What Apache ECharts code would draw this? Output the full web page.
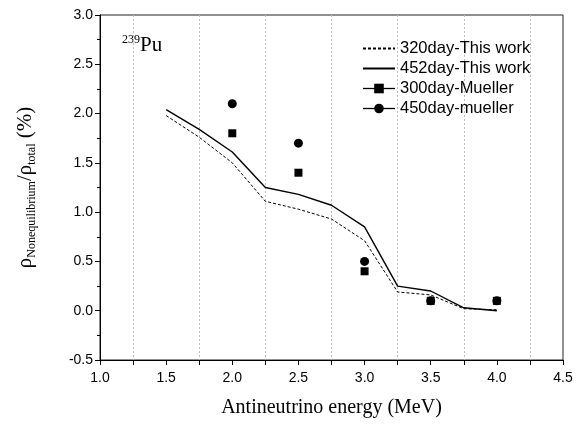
<!DOCTYPE html>
<html>
<head>
<meta charset="utf-8">
<script src="https://cdn.jsdelivr.net/npm/echarts@6/dist/echarts.min.js"></script>
<style>html,body{margin:0;padding:0;background:#fff}#c{width:577px;height:424px}</style>
</head>
<body>
<div id="c"></div>
<script>
var energies = [1.5, 1.75, 2.0, 2.25, 2.5, 2.75, 3.0, 3.25, 3.5, 3.75, 4.0];
var work320 = [1.98, 1.76, 1.50, 1.11, 1.03, 0.93, 0.71, 0.19, 0.16, 0.02, 0.01];
var work452 = [2.04, 1.84, 1.61, 1.25, 1.18, 1.07, 0.85, 0.25, 0.20, 0.03, 0.00];
var muellerE = [2.0, 2.5, 3.0, 3.5, 4.0];
var mueller300 = [1.80, 1.40, 0.40, 0.10, 0.10];
var mueller450 = [2.10, 1.70, 0.50, 0.10, 0.10];
var seriesNames = ['320day-This work', '452day-This work', '300day-Mueller', '450day-mueller'];

function pairs(xs, ys) { return xs.map(function (x, i) { return [x, ys[i]]; }); }

var chart = echarts.init(document.getElementById('c'));
var sans = 'Liberation Sans, Arial, sans-serif';
var serif = 'Liberation Serif, Times New Roman, serif';
chart.setOption({
  animation: false,
  backgroundColor: '#fff',
  grid: { left: 100, right: 14, top: 15, bottom: 64, show: true, borderColor: '#222', borderWidth: 1, outerBoundsMode: 'none' },
  legend: {
    orient: 'vertical', left: 357, top: 35, itemWidth: 32, itemHeight: 12, itemGap: 3,
    textStyle: { fontFamily: sans, fontSize: 16.5, color: '#000' },
    data: [
      { name: seriesNames[0], itemStyle: { opacity: 0 } },
      { name: seriesNames[1], itemStyle: { opacity: 0 } },
      { name: seriesNames[2], lineStyle: { width: 1.3, opacity: 1, color: '#000' } },
      { name: seriesNames[3], lineStyle: { width: 1.3, opacity: 1, color: '#000' } }
    ]
  },
  xAxis: {
    type: 'value', min: 1.0, max: 4.5, interval: 0.5,
    name: 'Antineutrino energy (MeV)', nameLocation: 'middle', nameGap: 38,
    nameTextStyle: { fontFamily: serif, fontSize: 20, color: '#000' },
    axisLine: { show: true, onZero: false, lineStyle: { color: '#000', width: 1 } },
    axisTick: { show: true, inside: false, length: 5, lineStyle: { color: '#000' } },
    minorTick: { show: true, splitNumber: 2, length: 5, lineStyle: { color: '#000' } },
    splitLine: { show: false },
    minorSplitLine: { show: true, lineStyle: { color: '#bbb', type: [2, 2], width: 1 } },
    axisLabel: { margin: 11, fontFamily: sans, fontSize: 14, color: '#000', formatter: function (v) { return v.toFixed(1); } }
  },
  yAxis: {
    type: 'value', min: -0.5, max: 3.0, interval: 0.5,
    name: '{r|ρ}{s|Nonequilibrium}{r|/ρ}{s|total}{r| (%)}', nameLocation: 'middle', nameGap: 62, nameRotate: 90,
    nameTextStyle: {
      color: '#000',
      rich: {
        r: { fontFamily: serif, fontSize: 21, color: '#000', lineHeight: 26, verticalAlign: 'middle' },
        s: { fontFamily: serif, fontSize: 12, color: '#000', lineHeight: 26, verticalAlign: 'bottom' }
      }
    },
    axisLine: { show: true, onZero: false, lineStyle: { color: '#000', width: 1 } },
    axisTick: { show: true, inside: false, length: 5, lineStyle: { color: '#000' } },
    minorTick: { show: true, splitNumber: 2, length: 3, lineStyle: { color: '#000' } },
    splitLine: { show: false },
    axisLabel: { margin: 7, fontFamily: sans, fontSize: 14, color: '#000', formatter: function (v) { return v.toFixed(1); } }
  },
  graphic: [{
    type: 'text', left: 122, top: 34,
    style: {
      text: '{a|239}{b|Pu}', fill: '#000',
      rich: {
        a: { fontFamily: serif, fontSize: 12, verticalAlign: 'top', lineHeight: 22 },
        b: { fontFamily: serif, fontSize: 21, verticalAlign: 'bottom', lineHeight: 22 }
      }
    }
  }],
  series: [
    { name: seriesNames[0], type: 'line', data: pairs(energies, work320), symbol: 'none', showSymbol: false,
      lineStyle: { color: '#000', width: 1, type: [3, 2] }, itemStyle: { color: '#000' } },
    { name: seriesNames[1], type: 'line', data: pairs(energies, work452), symbol: 'none', showSymbol: false,
      lineStyle: { color: '#000', width: 1.4 }, itemStyle: { color: '#000' } },
    { name: seriesNames[2], type: 'line', data: pairs(muellerE, mueller300), symbol: 'rect', symbolSize: 8,
      lineStyle: { width: 0, opacity: 0 }, itemStyle: { color: '#000' } },
    { name: seriesNames[3], type: 'line', data: pairs(muellerE, mueller450), symbol: 'circle', symbolSize: 9,
      lineStyle: { width: 0, opacity: 0 }, itemStyle: { color: '#000' } }
  ]
});
</script>
</body>
</html>
